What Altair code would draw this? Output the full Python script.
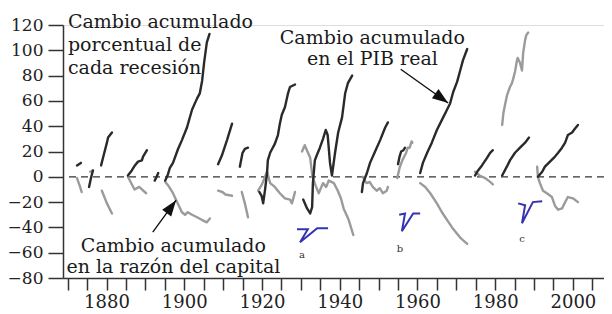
import altair as alt
import pandas as pd

FONT = "DejaVu Serif"

# ---- Cumulative change in real GDP (dark lines), one list per recession ----
G1_Y = [1872.4, 1873.4]; G1_V = [9, 11]
G2_Y = [1875.5, 1876.0, 1876.5]; G2_V = [-8, -1, 5]
G3_Y = [1878.6, 1879.1, 1880.1, 1880.4, 1881.4]; G3_V = [9, 15, 27, 31, 35]
G4_Y = [1885.5, 1886.5, 1887.3, 1888.1, 1889.1, 1889.4, 1890.4]; G4_V = [1, 5, 9, 12, 13, 16, 21]
G5_Y = [1892.4, 1892.9, 1893.3]; G5_V = [-3, 0, 3]
G6_Y = [1895.1, 1895.7, 1896.3, 1897.1, 1898.4, 1899.4, 1900.7, 1902.0, 1903.3, 1904.0, 1904.6, 1905.1, 1905.8, 1906.5]
G6_V = [-3, 1, 7, 11, 22, 29, 39, 53, 62, 66, 76, 90, 106, 113]
G7_Y = [1908.7, 1909.7, 1911.0, 1912.3]; G7_V = [10, 17, 29, 42]
G8_Y = [1914.3, 1915.0, 1915.6, 1916.4]; G8_V = [8, 19, 22, 23]
G9_Y = [1919.3, 1919.9, 1920.3, 1920.8, 1921.3, 1921.5, 1922.1, 1922.6, 1923.3, 1924.1, 1924.6, 1925.1, 1925.9, 1926.7, 1927.2, 1928.5]
G9_V = [-12, -15, -21, -10, 3, 13, 19, 22, 26, 33, 42, 49, 55, 66, 71, 73]
G10_Y = [1930.6, 1931.6, 1932.4, 1932.9, 1933.1, 1933.6, 1934.1, 1934.9, 1935.7, 1936.4, 1936.9, 1937.5, 1938.0, 1938.8, 1939.6, 1940.6, 1941.4, 1942.1, 1943.2]
G10_V = [-18, -25, -29, -24, -5, 13, 17, 23, 30, 37, 33, 11, 1, 19, 35, 47, 66, 74, 80]
G11_Y = [1945.7, 1946.0, 1947.0, 1947.8, 1949.1, 1950.4, 1951.7, 1952.4]; G11_V = [-12, -5, 3, 11, 20, 29, 39, 43]
G12_Y = [1955.0, 1955.4, 1955.8, 1956.4, 1956.8]; G12_V = [10, 16, 20, 21, 23]
G13_Y = [1960.7, 1961.4, 1962.5, 1963.7, 1965.0, 1966.3, 1967.6, 1968.4, 1969.2, 1970.2, 1971.0, 1971.7, 1972.8]
G13_V = [3, 11, 19, 27, 37, 45, 53, 58, 67, 75, 84, 92, 101]
G14_Y = [1974.8, 1975.6, 1976.6, 1977.9, 1978.7, 1979.4]; G14_V = [1, 5, 9, 15, 19, 21]
G15_Y = [1981.8, 1983.0, 1983.8, 1985.1, 1986.4, 1987.7, 1988.7]; G15_V = [1, 8, 13, 19, 23, 27, 31]
G16_Y = [1991.0, 1992.1, 1992.8, 1994.1, 1995.4, 1996.2, 1997.2, 1998.0, 1998.7, 1999.8, 2000.5, 2001.3]
G16_V = [0, 4, 8, 12, 16, 19, 23, 27, 33, 35, 38, 41]

# ---- Cumulative change in the capital ratio (gray lines) ----
K1_Y = [1872.4, 1873.2, 1873.6]; K1_V = [-1, -8, -12]
K2_Y = [1875.8, 1876.4]; K2_V = [4, 5]
K3_Y = [1878.8, 1880.1, 1881.4]; K3_V = [-11, -21, -29]
K4_Y = [1885.5, 1887.2, 1888.4, 1890.2]; K4_V = [0, -10, -8, -13]
K6_Y = [1895.1, 1895.9, 1897.1, 1898.3, 1899.4, 1900.2, 1900.9, 1902.0, 1903.3, 1904.5, 1905.8, 1906.6]
K6_V = [-4, -7, -13, -21, -28, -30, -28, -30, -32, -34, -36, -33]
K7_Y = [1908.7, 1909.8, 1910.6, 1912.3]; K7_V = [-11, -12, -14, -15]
K8_Y = [1914.8, 1915.6, 1916.4]; K8_V = [-12, -21, -32]
K9_Y = [1919.0, 1920.0, 1921.3, 1922.1, 1923.3, 1924.6, 1925.9, 1927.2, 1927.7, 1928.5]
K9_V = [-11, -6, 4, -5, -8, -13, -17, -18, -21, -12]
K10_Y = [1930.3, 1931.0, 1932.4, 1933.0, 1933.8, 1934.6, 1935.7, 1936.5, 1937.2, 1938.5, 1939.5, 1940.3, 1941.0, 1942.3, 1943.5]
K10_V = [20, 25, 15, 0, -7, -13, -5, -8, -3, -5, -11, -17, -25, -34, -46]
K11_Y = [1945.9, 1946.9, 1947.7, 1948.5, 1949.5, 1950.3, 1951.1, 1952.1, 1952.4]
K11_V = [0, -5, -4, -8, -11, -9, -13, -11, -8]
K12_Y = [1954.8, 1955.4, 1956.1, 1957.1, 1957.5, 1958.0, 1958.5, 1958.7]; K12_V = [-1, 7, 13, 19, 23, 23, 28, 27]
K13_Y = [1960.7, 1962.0, 1963.3, 1965.0, 1966.3, 1967.6, 1968.9, 1970.2, 1971.0, 1971.7, 1972.8]
K13_V = [-5, -8, -13, -21, -28, -34, -40, -45, -48, -50, -53]
K14_Y = [1974.8, 1976.0, 1977.4, 1978.7, 1979.4]; K14_V = [4, 1, -1, -4, -6]
K15_Y = [1981.8, 1982.1, 1982.6, 1983.1, 1983.8, 1984.3, 1984.6, 1985.1, 1985.6, 1985.8, 1986.4, 1986.9, 1987.2, 1987.7, 1988.0, 1988.5]
K15_V = [41, 50, 58, 65, 71, 74, 77, 83, 92, 94, 90, 84, 98, 108, 112, 114]
K16_Y = [1990.8, 1991.0, 1991.5, 1992.3, 1993.3, 1994.6, 1995.4, 1996.2, 1997.2, 1998.0, 1998.7, 2000.0, 2001.3]
K16_V = [8, 0, -5, -11, -13, -16, -23, -26, -25, -20, -16, -17, -20]

# ---- small blue recession-shape glyphs a, b, c ----
A_Y = [1929.0, 1931.8, 1929.8, 1934.2, 1937.0]; A_V = [-41.5, -41.5, -51.8, -40.7, -40.7]
B_Y = [1955.3, 1956.8, 1956.0, 1958.9, 1960.7]; B_V = [-30, -29, -43, -29, -29]
C_Y = [1985.9, 1987.7, 1986.9, 1989.7, 1992.1]; C_V = [-21, -22.5, -36.7, -20, -19.3]
GLYPH_LETTERS = ["a", "b", "c"]
LETTER_X = [1930.3, 1955.5, 1986.9]
LETTER_Y = [-62, -56.7, -48.8]

# ---- annotations ----
NOTE1 = "Cambio acumulado\nporcentual de\ncada recesión"
NOTE2 = "Cambio acumulado\nen el PIB real"
NOTE3 = "Cambio acumulado\nen la razón del capital"
NOTE_X = [1870.07, 1948.4, 1897.2]
NOTE_Y = [118.0, 104.9, -59.7]

ARROW_TAIL_X = [1891.9, 1955.7]
ARROW_TAIL_Y = [-43.8, 85.0]
ARROW_TIP_X = [1897.9, 1967.9]
ARROW_TIP_Y = [-18.5, 58.3]
ARROW_ANGLE = [36, 126]

X_TICKS = list(range(1870, 2006, 5))
Y_TICKS = list(range(-80, 121, 20))


def segments(pairs, prefix):
    rows = []
    for k, (ys, vs) in enumerate(pairs):
        for i, (yr, v) in enumerate(zip(ys, vs)):
            rows.append({"seg": f"{prefix}{k}", "i": i, "year": yr, "value": v})
    return pd.DataFrame(rows)


gdp = segments([(G1_Y, G1_V), (G2_Y, G2_V), (G3_Y, G3_V), (G4_Y, G4_V), (G5_Y, G5_V),
                (G6_Y, G6_V), (G7_Y, G7_V), (G8_Y, G8_V), (G9_Y, G9_V), (G10_Y, G10_V),
                (G11_Y, G11_V), (G12_Y, G12_V), (G13_Y, G13_V), (G14_Y, G14_V),
                (G15_Y, G15_V), (G16_Y, G16_V)], "g")
cap = segments([(K1_Y, K1_V), (K2_Y, K2_V), (K3_Y, K3_V), (K4_Y, K4_V), (K6_Y, K6_V),
                (K7_Y, K7_V), (K8_Y, K8_V), (K9_Y, K9_V), (K10_Y, K10_V), (K11_Y, K11_V),
                (K12_Y, K12_V), (K13_Y, K13_V), (K14_Y, K14_V), (K15_Y, K15_V),
                (K16_Y, K16_V)], "k")
glyphs = segments([(A_Y, A_V), (B_Y, B_V), (C_Y, C_V)], "b")

x_scale = alt.Scale(domain=[1868.8, 2008.0], nice=False, zero=False)
y_scale = alt.Scale(domain=[-80, 120], nice=False, zero=False)

x_axis = alt.Axis(values=X_TICKS, format="d",
                  labelExpr="datum.value % 20 == 0 ? datum.label : ''",
                  tickSize=12, labelPadding=3, labelFontSize=18, labelFont=FONT,
                  labelColor="#222", tickColor="#333", domainColor="#333",
                  tickWidth=1.5, domainWidth=1.5, grid=False, labelOverlap=False,
                  labelFlush=False, title=None)
y_axis = alt.Axis(values=Y_TICKS, tickSize=15, labelPadding=5, labelFontSize=17,
                  labelFont=FONT, labelColor="#222", tickColor="#333",
                  domainColor="#333", tickWidth=1.5, domainWidth=1.5, grid=False,
                  labelOverlap=False, labelFlush=False, title=None)


def X(f):
    return alt.X(f, type="quantitative", scale=x_scale, axis=x_axis, title=None)


def Y(f):
    return alt.Y(f, type="quantitative", scale=y_scale, axis=y_axis, title=None)


zero = alt.Chart(pd.DataFrame({"value": [0]})).mark_rule(
    color="#333", strokeWidth=1.3, strokeDash=[7, 5]).encode(y=Y("value"))

gray = alt.Chart(cap).mark_line(color="#9b9b9b", strokeWidth=2.4, strokeCap="round",
                                strokeJoin="round").encode(
    x=X("year"), y=Y("value"), detail="seg:N", order="i:Q")

dark = alt.Chart(gdp).mark_line(color="#2a2a2a", strokeWidth=2.4, strokeCap="round",
                                strokeJoin="round").encode(
    x=X("year"), y=Y("value"), detail="seg:N", order="i:Q")

blue = alt.Chart(glyphs).mark_line(color="#3434b0", strokeWidth=2).encode(
    x=X("year"), y=Y("value"), detail="seg:N", order="i:Q")

letters = alt.Chart(pd.DataFrame({"year": LETTER_X, "value": LETTER_Y, "t": GLYPH_LETTERS})).mark_text(
    font=FONT, fontSize=10, color="#333", baseline="middle").encode(
    x=X("year"), y=Y("value"), text="t:N")

notes_df = pd.DataFrame({"year": NOTE_X, "value": NOTE_Y, "t": [NOTE1, NOTE2, NOTE3]})
note_left = alt.Chart(notes_df.iloc[[0]]).mark_text(
    font=FONT, fontSize=19, color="#1a1a1a", align="left", baseline="alphabetic",
    lineBreak="\n", lineHeight=23).encode(x=X("year"), y=Y("value"), text="t:N")
note_center = alt.Chart(notes_df.iloc[[1, 2]]).mark_text(
    font=FONT, fontSize=19, color="#1a1a1a", align="center", baseline="alphabetic",
    lineBreak="\n", lineHeight=21).encode(x=X("year"), y=Y("value"), text="t:N")

arrows_df = pd.DataFrame({"x0": ARROW_TAIL_X, "y0": ARROW_TAIL_Y,
                          "x1": ARROW_TIP_X, "y1": ARROW_TIP_Y, "ang": ARROW_ANGLE})
arrow_lines = alt.Chart(arrows_df).mark_rule(color="#111", strokeWidth=1.4).encode(
    x=X("x0"), y=Y("y0"), x2="x1:Q", y2="y1:Q")
arrow_heads = alt.Chart(arrows_df).mark_point(
    shape="M0,0L0.7,2L-0.7,2Z", filled=True, size=256, color="#111",
    opacity=1, strokeWidth=0).encode(
    x=X("x1"), y=Y("y1"), angle=alt.Angle("ang:Q", scale=None))

chart = alt.layer(zero, gray, dark, blue, letters, note_left, note_center,
                  arrow_lines, arrow_heads).properties(
    width=541, height=253,
    autosize=alt.AutoSizeParams(type="none"),
    padding={"left": 55, "top": 17, "right": 0, "bottom": 35},
).configure_view(stroke=None).configure(background="white", font=FONT)

chart.save("out.html", embed_options={"renderer": "svg", "actions": False})
